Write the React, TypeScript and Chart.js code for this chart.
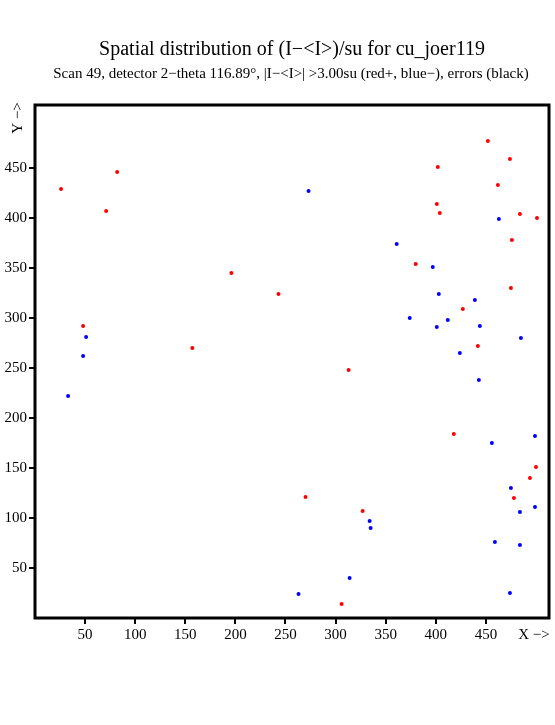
import React, { useEffect, useRef } from "react";
import { Chart, registerables } from "chart.js";

Chart.register(...registerables);

const TITLE = "Spatial distribution of (I\u2212<I>)/su for cu_joer119";
const SUBTITLE = "Scan 49, detector 2\u2212theta 116.89\u00b0, |I\u2212<I>| >3.00su (red+, blue\u2212), errors (black)";

const X_TICKS = [50, 100, 150, 200, 250, 300, 350, 400, 450];
const Y_TICKS = [50, 100, 150, 200, 250, 300, 350, 400, 450];

const redX = [26, 82, 71, 196, 243, 48, 157, 452, 474, 402, 462, 401, 404, 484, 501, 476, 380, 475, 427, 442, 313, 418, 500, 494, 478, 270, 327, 306];
const redY = [429, 446, 407, 345, 324, 292, 270, 477, 459, 451, 433, 414, 405, 404, 400, 378, 354, 330, 309, 272, 248, 184, 151, 140, 120, 121, 107, 14];

const blueX = [51, 48, 33, 273, 463, 361, 397, 403, 439, 374, 412, 401, 444, 485, 424, 443, 456, 499, 475, 499, 484, 334, 335, 459, 484, 314, 263, 474];
const blueY = [281, 262, 222, 427, 399, 374, 351, 324, 318, 300, 298, 291, 292, 280, 265, 238, 175, 182, 130, 111, 106, 97, 90, 76, 73, 40, 24, 25];

const errX: number[] = [];
const errY: number[] = [];

const toPts = (xs: number[], ys: number[]) => xs.map((x, i) => ({ x, y: ys[i] }));

const SERIF = "'Liberation Serif', 'Times New Roman', serif";

const textPlugin = {
  id: "texts",
  afterDraw(chart: any) {
    const { ctx, chartArea } = chart;
    ctx.save();
    ctx.strokeStyle = "#000";
    ctx.lineWidth = 3;
    ctx.strokeRect(chartArea.left, chartArea.top, chartArea.right - chartArea.left, chartArea.bottom - chartArea.top);
    ctx.fillStyle = "#000";
    ctx.textAlign = "center";
    ctx.textBaseline = "middle";
    ctx.font = `20px ${SERIF}`;
    ctx.fillText(TITLE, 292, 50);
    ctx.font = `15px ${SERIF}`;
    ctx.fillText(SUBTITLE, 291, 74);
    ctx.font = `15px ${SERIF}`;
    ctx.fillText("X \u2212>", 534, 635);
    ctx.translate(18, 118);
    ctx.rotate(-Math.PI / 2);
    ctx.fillText("Y \u2212>", 0, 0);
    ctx.restore();
  },
};

export default function App() {
  const ref = useRef<HTMLCanvasElement>(null);
  useEffect(() => {
    if (!ref.current) return;
    const tickFont = { family: SERIF, size: 15 };
    const chart = new Chart(ref.current, {
      type: "scatter",
      data: {
        datasets: [
          { data: toPts(redX, redY), backgroundColor: "#ff0000", borderColor: "#ff0000", pointRadius: 2, pointBorderWidth: 0 },
          { data: toPts(blueX, blueY), backgroundColor: "#0000ff", borderColor: "#0000ff", pointRadius: 2, pointBorderWidth: 0 },
          { data: toPts(errX, errY), backgroundColor: "#000000", borderColor: "#000000", pointRadius: 2, pointBorderWidth: 0 },
        ],
      },
      options: {
        responsive: false,
        animation: false,
        events: [],
        layout: { padding: { top: 105, right: 6, bottom: 0, left: 0 } },
        plugins: { legend: { display: false }, tooltip: { enabled: false }, title: { display: false } },
        scales: {
          x: {
            type: "linear",
            min: 0,
            max: 513,
            afterFit: (s: any) => { s.height = 107; },
            afterBuildTicks: (s: any) => { s.ticks = X_TICKS.map((v) => ({ value: v })); },
            grid: { drawOnChartArea: false, drawTicks: true, tickLength: 6, color: "#000", lineWidth: 2 },
            border: { display: false },
            ticks: { color: "#000", font: tickFont, padding: 2, maxRotation: 0, autoSkip: false },
          },
          y: {
            type: "linear",
            min: 0,
            max: 513,
            afterFit: (s: any) => { s.width = 35; },
            afterBuildTicks: (s: any) => { s.ticks = Y_TICKS.map((v) => ({ value: v })); },
            grid: { drawOnChartArea: false, drawTicks: true, tickLength: 6, color: "#000", lineWidth: 2 },
            border: { display: false },
            ticks: { color: "#000", font: tickFont, padding: 2, autoSkip: false },
          },
        },
      },
      plugins: [textPlugin],
    } as any);
    return () => chart.destroy();
  }, []);
  return (
    <canvas
      ref={ref}
      width={555}
      height={725}
      style={{ position: "absolute", left: 0, top: 0, width: 555, height: 725, display: "block" }}
    />
  );
}
